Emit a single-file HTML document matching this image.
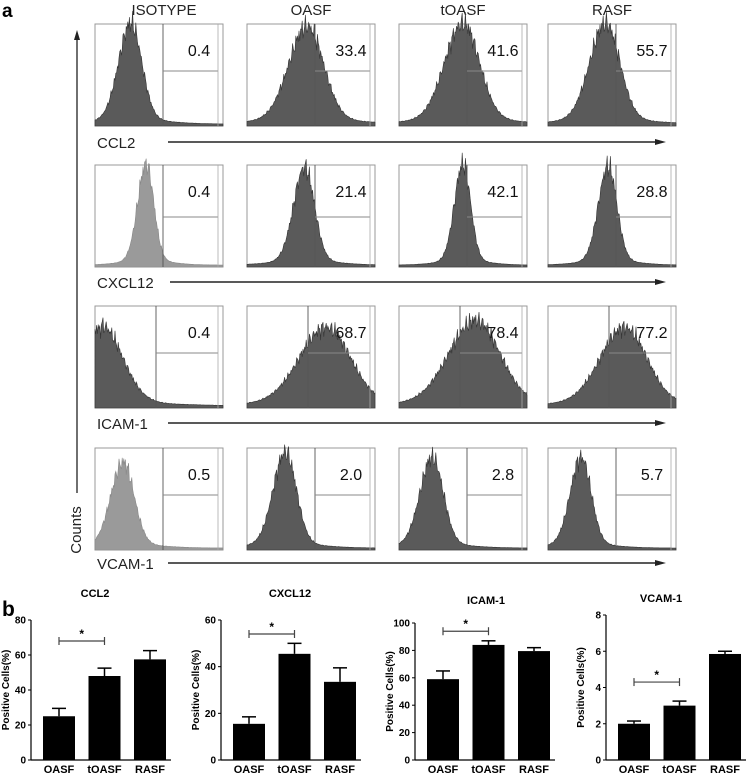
<!DOCTYPE html>
<html><head><meta charset="utf-8"><style>
html,body{margin:0;padding:0;background:#fff;}
svg{display:block;font-family:"Liberation Sans",Arial,sans-serif;}
</style></head><body>
<svg id="fig" width="752" height="775" viewBox="0 0 752 775">
<text x="2" y="17" font-size="19" font-weight="bold">a</text>
<text x="2" y="616" font-size="21" font-weight="bold">b</text>
<g font-size="15" text-anchor="middle" fill="#222">
<text x="164" y="15">ISOTYPE</text>
<text x="311" y="15">OASF</text>
<text x="463" y="15">tOASF</text>
<text x="612" y="15">RASF</text>
</g>
<g>
<line x1="77" y1="38" x2="77" y2="493" stroke="#222" stroke-width="1.3"/>
<polygon points="77,30 74,40 80,40" fill="#222"/>
<text transform="translate(81,530) rotate(-90)" font-size="15" text-anchor="middle" fill="#222">Counts</text>
</g>
<g id="hists"></g>
<g id="bars"></g>
</svg>
<script>
const NS='http://www.w3.org/2000/svg';
function mk(tag,attrs,parent){const e=document.createElementNS(NS,tag);for(const k in attrs)e.setAttribute(k,attrs[k]);parent.appendChild(e);return e;}

// ---------- Histogram panels ----------
const markers=['CCL2','CXCL12','ICAM-1','VCAM-1'];
const groups=['ISOTYPE','OASF','tOASF','RASF'];
const percents=[[0.4,33.4,41.6,55.7],[0.4,21.4,42.1,28.8],[0.4,68.7,78.4,77.2],[0.5,2.0,2.8,5.7]];
const peakCenter=[[0.28,0.47,0.50,0.45],[0.40,0.45,0.50,0.47],[0.05,0.62,0.60,0.60],[0.22,0.30,0.26,0.26]];
const peakWidth=[[0.10,0.15,0.15,0.13],[0.07,0.09,0.07,0.08],[0.19,0.22,0.22,0.20],[0.10,0.10,0.10,0.09]];
const peakHeight=[[1.0,0.97,1.0,1.0],[1.0,0.97,1.0,0.98],[0.8,0.78,0.85,0.78],[0.85,0.95,0.9,0.9]];
const colX=[95,247,399,548], rowY=[24,165,306,448], labelY=[142,282,423,563];
const PW=128, PH=102;
const hg=document.getElementById('hists');
for(let r=0;r<4;r++){
  const lab=mk('text',{x:97,y:labelY[r]+6,'font-size':15,fill:'#222'},hg);
  lab.textContent=markers[r];
  
  
  const ax=mk('g',{},hg);
  
  
  mk('line',{x1:r==1?170:168,y1:labelY[r],x2:656,y2:labelY[r],stroke:'#222','stroke-width':1.4},ax);
  mk('polygon',{points:`666,${labelY[r]} 655,${labelY[r]-3} 655,${labelY[r]+3}`,fill:'#222'},ax);
  for(let c=0;c<4;c++){
    const x0=colX[c], y0=rowY[r];
    const g=mk('g',{},hg);
    
    
    mk('rect',{x:x0,y:y0,width:PW,height:PH,fill:'#fff',stroke:'#999','stroke-width':1},g);
    const mu=peakCenter[r][c], sg=peakWidth[r][c], hh=peakHeight[r][c];
    let d=`M${x0},${y0+PH}`;
    const N=160;
    for(let i=0;i<=N;i++){
      const t=i/N;
      const s=t<mu?sg*0.95:sg*0.85;
      let v=Math.exp(-0.5*Math.pow((t-mu)/s,2));
      v+=0.05*Math.exp(-0.5*Math.pow((t-mu)/(sg*2.6),2));
      if(r==2&&c==0&&t<mu) v=1;
      const j=1+0.1*Math.sin(i*2.3+r*5+c*3)*Math.sin(i*0.7)+0.05*Math.sin(i*5.1);
      v=Math.max(0,v*j*hh);
      const y=y0+PH-2-v*(PH-6);
      d+=` L${(x0+t*PW).toFixed(1)},${y.toFixed(1)}`;
    }
    d+=` L${x0+PW},${y0+PH} Z`;
    const light=(c==0&&(r==1||r==3));
    mk('path',{d:d,fill:light?'#9a9a9a':'#5a5a5a',stroke:light?'#888':'#333','stroke-width':0.6},g);
    const gx=x0+(r==2?61:68), gy=y0+(r==1?52:47);
    mk('line',{x1:gx,y1:y0,x2:gx,y2:y0+PH,stroke:'#555','stroke-width':0.9},g);
    mk('line',{x1:gx,y1:gy,x2:x0+PW-5,y2:gy,stroke:'#888','stroke-width':0.9},g);
    mk('line',{x1:x0+PW-5,y1:y0,x2:x0+PW-5,y2:y0+PH,stroke:'#aaa','stroke-width':0.8},g);
    const t=mk('text',{x:x0+104,y:y0+32,'font-size':16,'text-anchor':'middle',fill:'#111'},g);
    t.textContent=percents[r][c].toFixed(1);
  }
}

// ---------- Bar charts ----------
const categories=['OASF','tOASF','RASF'];
const chartTitles=['CCL2','CXCL12','ICAM-1','VCAM-1'];
const ccl2Values=[25,48,57.5], ccl2Errors=[4.5,4.5,5];
const cxcl12Values=[15.5,45.5,33.5], cxcl12Errors=[3,4.5,6];
const icamValues=[59,84,79.5], icamErrors=[6,3,2.5];
const vcamValues=[2.0,3.0,5.85], vcamErrors=[0.15,0.25,0.15];
const ccl2Ticks=[0,20,40,60,80], cxcl12Ticks=[0,20,40,60], icamTicks=[0,20,40,60,80,100], vcamTicks=[0,2,4,6,8];
const sigLevels=[68,54,94,4.3];

const allValues=[ccl2Values,cxcl12Values,icamValues,vcamValues];
const allErrors=[ccl2Errors,cxcl12Errors,icamErrors,vcamErrors];
const allTicks=[ccl2Ticks,cxcl12Ticks,icamTicks,vcamTicks];
const axisXs=[31,221,415,606], topYs=[620,620,623,615], titleXY=[[95,597],[290,597],[486,604],[661,602]];
const BOTTOM=760;
const bg=document.getElementById('bars');
for(let k=0;k<4;k++){
  const ax=axisXs[k], top=topYs[k], ticks=allTicks[k], max=ticks[ticks.length-1];
  const yS=v=>BOTTOM-(v/max)*(BOTTOM-top);
  const xS=i=>ax+12+i*45.5;
  const g=mk('g',{},bg);
  
  
  const tt=mk('text',{x:titleXY[k][0],y:titleXY[k][1],'font-size':11,'font-weight':'bold','text-anchor':'middle'},g);
  tt.textContent=chartTitles[k];
  
  
  mk('line',{x1:ax,y1:top,x2:ax,y2:BOTTOM,stroke:'#000','stroke-width':1.2},g);
  mk('line',{x1:ax,y1:BOTTOM,x2:ax+140,y2:BOTTOM,stroke:'#000','stroke-width':1.2},g);
  ticks.forEach(tv=>{
    const y=yS(tv);
    mk('line',{x1:ax-3,y1:y,x2:ax,y2:y,stroke:'#000','stroke-width':1},g);
    const tl=mk('text',{x:ax-5,y:y+3.5,'font-size':10,'font-weight':'bold','text-anchor':'end'},g);
    tl.textContent=tv;
  });
  const yl=mk('text',{transform:`translate(${ax-22},${(top+BOTTOM)/2}) rotate(-90)`,'font-size':10,'font-weight':'bold','text-anchor':'middle'},g);
  yl.textContent='Positive Cells(%)';
  
  
  allValues[k].forEach((v,i)=>{
    const x=xS(i), w=32, e=allErrors[k][i];
    const ey=yS(v+e);
    mk('line',{x1:x+w/2,y1:yS(v),x2:x+w/2,y2:ey,stroke:'#000','stroke-width':1.5},g);
    mk('line',{x1:x+w/2-7,y1:ey,x2:x+w/2+7,y2:ey,stroke:'#000','stroke-width':1.5},g);
    const b=mk('rect',{x:x,y:yS(v),width:w,height:BOTTOM-yS(v),fill:'#000'},g);
    
    
    const cl=mk('text',{x:x+w/2,y:773,'font-size':11,'font-weight':'bold','text-anchor':'middle'},g);
    cl.textContent=categories[i];
  });
  const sy=yS(sigLevels[k]), x1=xS(0)+16, x2=xS(1)+16;
  const sg=mk('g',{},g);
  
  
  mk('line',{x1:x1,y1:sy,x2:x2,y2:sy,stroke:'#444','stroke-width':1.2},sg);
  mk('line',{x1:x1,y1:sy-4,x2:x1,y2:sy+4,stroke:'#444','stroke-width':1.2},sg);
  mk('line',{x1:x2,y1:sy-4,x2:x2,y2:sy+4,stroke:'#444','stroke-width':1.2},sg);
  const st=mk('text',{x:(x1+x2)/2,y:sy-3,'font-size':12,'font-weight':'bold','text-anchor':'middle'},sg);
  st.textContent='*';
}
</script>
</body></html>
